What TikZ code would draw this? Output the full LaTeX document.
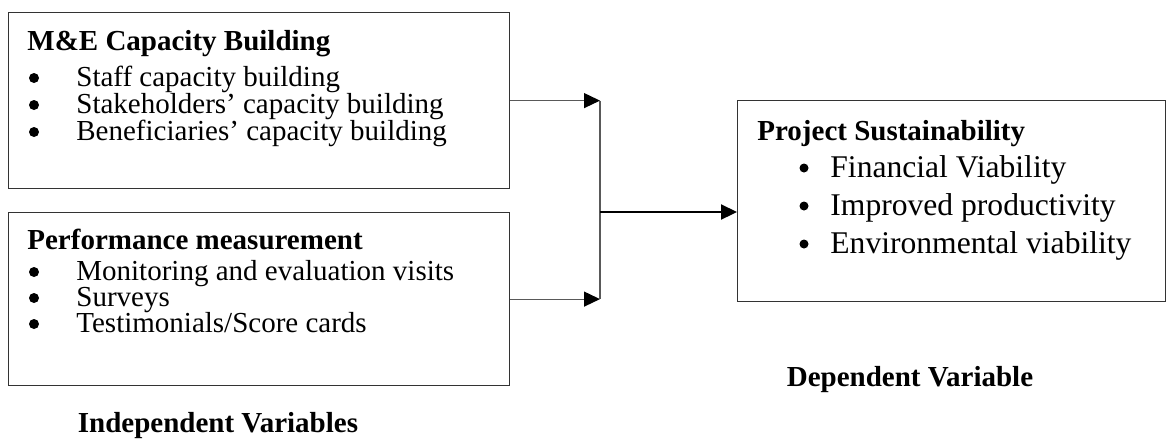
\documentclass[tikz,border=0pt]{standalone}
\usepackage{fontspec}
\setmainfont{Liberation Serif}
\usetikzlibrary{arrows.meta,positioning,calc}

\begin{document}
\begin{tikzpicture}[x=0.5pt, y=-0.5pt,
    every node/.style={inner sep=0pt, font=\fontsize{14.5}{17}\selectfont},
    varbox/.style={draw=black!80, line width=0.6pt, anchor=north west},
    head/.style={anchor=base west, font=\fontsize{14.5}{17}\selectfont\bfseries},
    item/.style={anchor=base west},
    bigitem/.style={anchor=base west, font=\fontsize{15.8}{19}\selectfont},
    dot/.style={circle, fill=black, minimum size=5pt},
    smalldot/.style={circle, fill=black, minimum size=4.5pt},
    caption/.style={anchor=base, font=\fontsize{14.5}{17}\selectfont\bfseries},
    link/.style={draw=black!65, line width=0.6pt},
    feed/.style={link, -{Triangle[length=8pt, width=7.5pt, color=black]}}]
    \useasboundingbox (0,0) rectangle (1167,441);

    % Boxes
    \node[varbox, minimum width=250.5pt, minimum height=88pt] (capacity) at (8,12) {};
    \node[varbox, minimum width=250.5pt, minimum height=86.5pt] (performance) at (8,212) {};
    \node[varbox, minimum width=214pt, minimum height=100.5pt] (sustain) at (737,100) {};

    % Independent variables: M&E capacity building
    \node[head] (capTitle) at (27,50) {M\&E Capacity Building};
    \foreach \txt [count=\i] in {Staff capacity building, Stakeholders’ capacity building, Beneficiaries’ capacity building} {
        \node[dot] (capDot\i) at (34, 51+27*\i) {};
        \node[item] (capItem\i) at (76, 59+27*\i) {\txt};
    }

    % Independent variables: performance measurement
    \node[head] (perfTitle) at (27,249) {Performance measurement};
    \foreach \txt [count=\i] in {Monitoring and evaluation visits, Surveys, Testimonials/Score cards} {
        \node[dot] (perfDot\i) at (34, 246+26*\i) {};
        \node[item] (perfItem\i) at (76, 254+26*\i) {\txt};
    }

    % Dependent variable
    \node[head] (susTitle) at (757,140) {Project Sustainability};
    \foreach \txt [count=\i] in {Financial Viability, Improved productivity, Environmental viability} {
        \node[smalldot] (susDot\i) at (804, 130+38*\i) {};
        \node[bigitem] (susItem\i) at (830, 139+38*\i) {\txt};
    }

    % Captions
    \node[caption] (indepLabel) at (218,432) {Independent Variables};
    \node[caption] (depLabel) at (910,386) {Dependent Variable};

    % Connectors
    \coordinate (joint) at (600,212);
    \draw[feed] (capacity.east) -- (capacity.east -| joint);
    \draw[feed] (performance.east) -- (performance.east -| joint);
    \draw[link] (capacity.east -| joint) -- (performance.east -| joint);
    \draw[feed, draw=black, line width=1.1pt] (joint) -- (joint -| sustain.west);
\end{tikzpicture}
\end{document}
